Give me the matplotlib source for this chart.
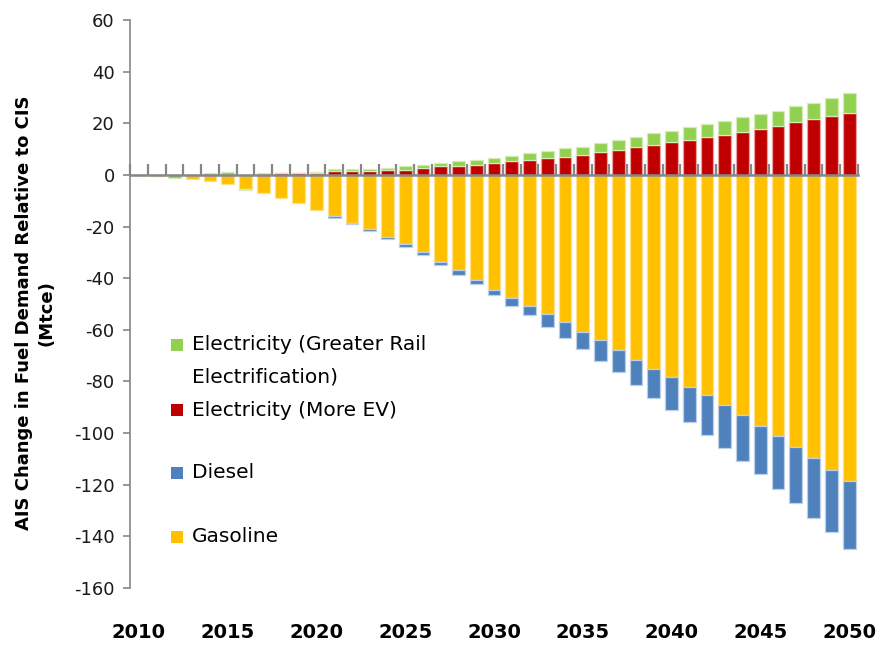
import matplotlib
matplotlib.use('Agg')
import matplotlib.pyplot as plt
import matplotlib.transforms as mtransforms
from matplotlib.patches import Rectangle
import numpy as np

years = list(range(2010, 2051))
gasoline = [0, -0.3, -0.2, -1.7, -2.3, -3.5, -5.4, -7.2, -9.0, -11.0, -13.4,
            -15.9, -18.5, -21.0, -24.1, -26.7, -29.9, -33.6, -36.9, -40.6, -44.4,
            -47.5, -50.6, -53.7, -56.9, -60.7, -63.8, -67.7, -71.5, -75.2, -78.3,
            -82.1, -85.3, -89.0, -92.8, -97.2, -101.0, -105.4, -109.7, -114.2, -118.6]
diesel = [0, 0, 0, 0, 0, 0, 0, 0, 0, 0, 0,
          -0.7, -0.7, -0.6, -0.8, -1.3, -1.2, -1.2, -1.7, -1.8, -2.3,
          -3.1, -3.8, -5.1, -6.3, -6.9, -8.2, -8.7, -9.9, -11.1, -12.6,
          -13.7, -15.5, -16.9, -18.1, -18.8, -20.7, -21.8, -23.2, -24.3, -26.3]
ev = [0, 0, 0, 0, 0, 0, 0, 0, 0.9, 0.9, 0.65,
      1.4, 1.4, 1.4, 1.8, 1.8, 2.6, 3.4, 3.5, 4.0, 4.5,
      5.3, 5.8, 6.6, 7.1, 7.8, 8.9, 9.7, 10.9, 11.7, 12.8,
      13.5, 14.8, 15.3, 16.7, 17.9, 19.0, 20.3, 21.6, 22.9, 24.1]
rail = [0, 0, -0.9, 0, 0.9, 1.0, -0.5, 0.9, 0, 0, 0.65,
        0.8, 0.7, 0.7, 0.9, 1.6, 1.4, 1.1, 1.7, 1.8, 1.9,
        2.0, 2.6, 2.6, 3.3, 3.2, 3.4, 3.8, 3.7, 4.4, 4.4,
        5.0, 4.9, 5.7, 5.6, 5.7, 5.7, 6.4, 6.2, 6.9, 7.6]

label_years = years[::5]
yticks = list(range(-160, 61, 20))
ylabel = "AIS Change in Fuel Demand Relative to CIS\n(Mtce)"

series = [
    ("Gasoline", gasoline, "#FFC000", "#FFE08A"),
    ("Diesel", diesel, "#4F81BD", "#BCD0E8"),
    ("Electricity (More EV)", ev, "#C00000", "#E8A0A0"),
    ("Electricity (Greater Rail\nElectrification)", rail, "#92D050", "#D2EDB5"),
]

W, H = 882, 656
fig = plt.figure(figsize=(W / 100, H / 100), dpi=100)
ax = fig.add_axes([130 / W, 1 - 588 / H, 728 / W, 568 / H])

pos = np.zeros(len(years))
neg = np.zeros(len(years))
for name, vals, col, edge in series:
    v = np.array(vals, dtype=float)
    bottom = np.where(v >= 0, pos, neg)
    ax.bar(years, v, bottom=bottom, width=0.72, color=col,
           edgecolor=edge, linewidth=0.9, zorder=2)
    pos += np.where(v >= 0, v, 0)
    neg += np.where(v < 0, v, 0)

ax.set_xlim(years[0] - 0.5, years[-1] + 0.5)
ax.set_ylim(yticks[0], yticks[-1])
ax.set_yticks(yticks)
ax.set_yticklabels([str(t) for t in yticks])

for s in ("top", "right"):
    ax.spines[s].set_visible(False)
ax.spines["left"].set_color("#868686")
ax.spines["left"].set_linewidth(1.2)
ax.spines["bottom"].set_position(("data", 0))
ax.spines["bottom"].set_color("#868686")
ax.spines["bottom"].set_linewidth(1.8)
ax.spines["bottom"].set_zorder(5)

ax.set_xticks(np.arange(years[0] - 0.5, years[-1] + 1, 1.0))
ax.tick_params(axis="x", direction="in", length=8, width=1.6,
               color="#868686", labelbottom=False)
ax.tick_params(axis="y", direction="out", length=5, width=1.2,
               color="#868686", labelsize=13, labelcolor="#1a1a1a", pad=6)

trans = mtransforms.blended_transform_factory(ax.transData, ax.transAxes)
for y in label_years:
    ax.text(y, -0.0775, str(y), transform=trans, ha="center", va="center",
            fontsize=14, fontweight="bold", color="#000000")

fig.text(35.5 / W, 1 - 313 / H, ylabel, rotation=90, ha="center", va="center",
         ma="center", fontsize=13, fontweight="bold", linespacing=1.3)

# legend (reversed order, as in the reference)
leg_y = [345, 410, 473, 537]
for (name, vals, col, edge), yc in zip(series[::-1], leg_y):
    fig.patches.append(Rectangle((171 / W, 1 - (yc + 6) / H), 12 / W, 12 / H,
                                 transform=fig.transFigure, facecolor=col,
                                 edgecolor="none"))
    for i, line in enumerate(name.split("\n")):
        fig.text(192 / W, 1 - (yc + i * 32) / H, line, ha="left",
                 va="center", fontsize=14.5, color="#000000")

fig.savefig("out.png", dpi=100)
